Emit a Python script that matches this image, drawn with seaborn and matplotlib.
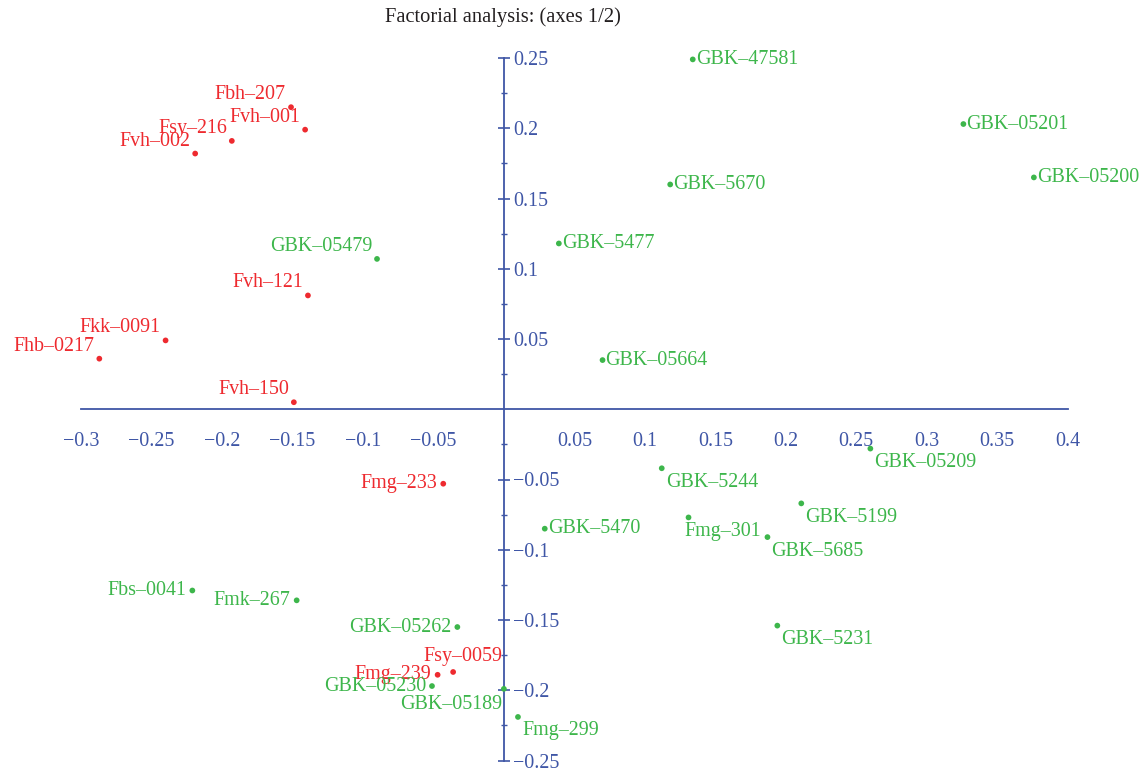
import numpy as np
import pandas as pd
import matplotlib
matplotlib.use("Agg")
import matplotlib.pyplot as plt
import matplotlib.ticker as mticker
import seaborn as sns

# ---------------- data ----------------
labels = ["Fbh\u2013207", "Fvh\u2013001", "Fsy\u2013216", "Fvh\u2013002", "GBK\u201305479",
          "Fvh\u2013121", "Fkk\u20130091", "Fhb\u20130217", "Fvh\u2013150", "Fmg\u2013233",
          "GBK\u20135470", "Fbs\u20130041", "Fmk\u2013267", "GBK\u201305262", "Fsy\u20130059",
          "Fmg\u2013239", "GBK\u201305230", "GBK\u201305189", "Fmg\u2013299", "GBK\u201347581",
          "GBK\u20135670", "GBK\u20135477", "GBK\u201305664", "GBK\u201305209", "GBK\u20135244",
          "GBK\u20135199", "Fmg\u2013301", "GBK\u20135685", "GBK\u20135231", "GBK\u201305201",
          "GBK\u201305200"]
x_vals = [-0.151, -0.141, -0.193, -0.219, -0.090,
          -0.139, -0.240, -0.287, -0.149, -0.043,
          0.029, -0.221, -0.147, -0.033, -0.036,
          -0.047, -0.051, 0.000, 0.010, 0.134,
          0.118, 0.039, 0.070, 0.260, 0.112,
          0.211, 0.131, 0.187, 0.194, 0.326,
          0.376]
y_vals = [0.215, 0.199, 0.191, 0.182, 0.107,
          0.081, 0.049, 0.036, 0.005, -0.053,
          -0.085, -0.129, -0.136, -0.155, -0.187,
          -0.189, -0.197, -0.199, -0.219, 0.249,
          0.160, 0.118, 0.035, -0.028, -0.042,
          -0.067, -0.077, -0.091, -0.154, 0.203,
          0.165]
groups = ["red", "red", "red", "red", "green",
          "red", "red", "red", "red", "red",
          "green", "green", "green", "green", "red",
          "red", "green", "green", "green", "green",
          "green", "green", "green", "green", "green",
          "green", "green", "green", "green", "green",
          "green"]
# label placement codes relative to the dot
placements = ["ul", "ul", "ul", "ul", "ul",
              "ul", "ul", "ul", "ul", "l",
              "r", "l", "l", "l", "u",
              "l", "l", "dl", "dr", "r",
              "r", "r", "r", "dr", "dr",
              "dr", "dc", "dr", "dr", "r",
              "r"]
x_ticks = [-0.3, -0.25, -0.2, -0.15, -0.1, -0.05, 0.05, 0.1, 0.15, 0.2, 0.25, 0.3, 0.35, 0.4]
y_ticks = [-0.25, -0.2, -0.15, -0.1, -0.05, 0.05, 0.1, 0.15, 0.2, 0.25]
title = "Factorial analysis: (axes 1/2)"

# ---------------- style ----------------
sns.set_style("white")
plt.rcParams["font.family"] = ["Liberation Serif", "DejaVu Serif"]
plt.rcParams["axes.unicode_minus"] = True

AXIS = "#3f56a6"
RED = "#ee2a2f"
GREEN = "#3db64b"
palette = {"red": RED, "green": GREEN}
FS = 14.4

df = pd.DataFrame({"label": labels, "x": x_vals, "y": y_vals,
                   "group": groups, "place": placements})

W, H = 1146, 771
fig = plt.figure(figsize=(W / 100, H / 100), dpi=100)
x0, x1 = 81.0, 1067.7
y_top, y_bot = 58.0, 760.5
ax = fig.add_axes([x0 / W, (H - y_bot) / H, (x1 - x0) / W, (y_bot - y_top) / H])
ax.patch.set_alpha(0)

sns.scatterplot(data=df, x="x", y="y", hue="group", palette=palette,
                s=17, linewidth=0, legend=False, ax=ax, zorder=3, clip_on=False)

ax.set_xlim(-0.3, 0.4)
ax.set_ylim(-0.25, 0.25)
ax.set_xlabel("")
ax.set_ylabel("")

# axes through origin
for s in ["top", "left"]:
    ax.spines[s].set_visible(False)
ax.spines["bottom"].set_position(("data", 0))
ax.spines["right"].set_position(("data", 0))
for s in ["bottom", "right"]:
    ax.spines[s].set_color(AXIS)
    ax.spines[s].set_linewidth(1.3)
ax.yaxis.tick_right()
ax.yaxis.set_label_position("right")

fmt = mticker.FuncFormatter(lambda v, p: f"{v:g}".replace("-", "\u2212"))
ax.xaxis.set_major_locator(mticker.FixedLocator(x_ticks))
ax.yaxis.set_major_locator(mticker.FixedLocator(y_ticks))
ax.xaxis.set_major_formatter(fmt)
ax.yaxis.set_major_formatter(fmt)
ax.xaxis.set_minor_locator(mticker.FixedLocator(np.arange(-0.275, 0.4, 0.05)))
ax.yaxis.set_minor_locator(mticker.FixedLocator(np.arange(-0.225, 0.25, 0.05)))

ax.tick_params(axis="both", which="major", direction="inout", length=8.5, width=1.2,
               color=AXIS, labelcolor=AXIS, labelsize=FS)
ax.tick_params(axis="both", which="minor", direction="inout", length=4.5, width=1.0,
               color=AXIS)
ax.tick_params(axis="x", which="major", pad=12)
ax.tick_params(axis="y", which="major", pad=2.5)

# labels
place_map = {
    "ul": dict(ha="right", va="baseline", dx=-5, dy=8),
    "l":  dict(ha="right", va="center", dx=-6, dy=0),
    "r":  dict(ha="left", va="center", dx=3, dy=0),
    "dr": dict(ha="left", va="center", dx=4, dy=-14),
    "dl": dict(ha="right", va="center", dx=-2, dy=-16),
    "dc": dict(ha="left", va="center", dx=-4, dy=-14),
    "u":  dict(ha="center", va="baseline", dx=10, dy=11),
}
for _, row in df.iterrows():
    p = place_map[row["place"]]
    ax.annotate(row["label"], (row["x"], row["y"]), xytext=(p["dx"], p["dy"]),
                textcoords="offset pixels", ha=p["ha"], va=p["va"],
                color=palette[row["group"]], fontsize=FS, annotation_clip=False,
                zorder=4)

fig.text(502.5 / W, 1 - 17 / H, title, ha="center", va="center",
         fontsize=14.8, color="#231f20")

fig.savefig("out.png", dpi=100)
